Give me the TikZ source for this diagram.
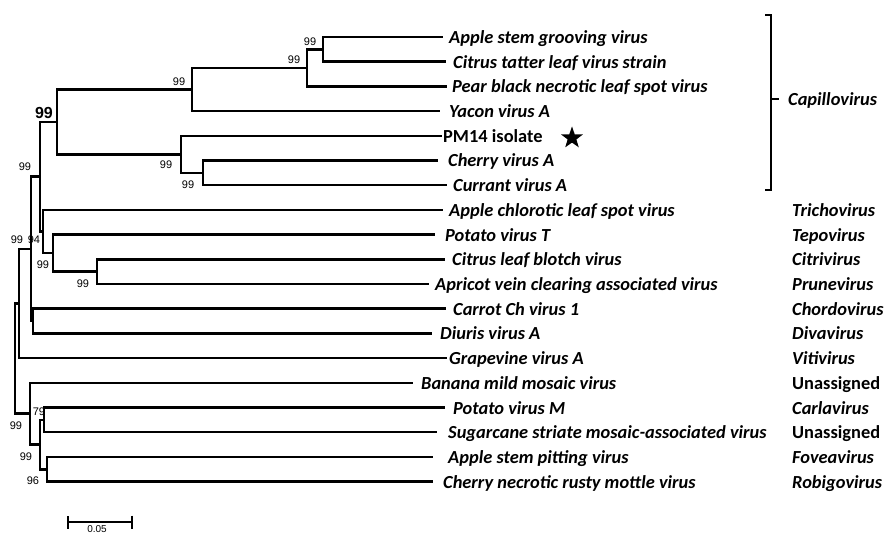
\documentclass[tikz,border=0pt]{standalone}
\usepackage{fontspec}
\setmainfont{Carlito}
\newfontfamily\numfont{Liberation Sans}
\usetikzlibrary{shapes.geometric,arrows.meta}

\tikzset{
  branch/.style={line width=2.5pt, line join=miter},
  taxon/.style={anchor=base west, inner sep=0pt, font=\fontsize{18.4}{18.4}\selectfont\bfseries\itshape},
  upright/.style={taxon, font=\fontsize{18.4}{18.4}\selectfont\bfseries\upshape},
  boot/.style={inner sep=0pt, font=\numfont\fontsize{11}{11}\selectfont},
  bracket/.style={line width=2pt, line join=miter},
  scalebar/.style={line width=2pt, {Bar[width=13pt]}-{Bar[width=13pt]}}
}

\begin{document}
\begin{tikzpicture}[x=1pt, y=-1pt]
  \useasboundingbox (0,0) rectangle (885,534);
  \clip (0,0) rectangle (885,534);

  % leaf tips
  \coordinate (asgv)   at (443,37);
  \coordinate (ctlv)   at (446,61.7);
  \coordinate (pbnlsv) at (447,86.4);
  \coordinate (yva)    at (440,111.1);
  \coordinate (pm)     at (442,135.8);
  \coordinate (cva)    at (438,160.5);
  \coordinate (cuva)   at (447,185.2);
  \coordinate (aclsv)  at (443,209.9);
  \coordinate (pvt)    at (435,234.6);
  \coordinate (clbv)   at (445,259.3);
  \coordinate (avcav)  at (429,284);
  \coordinate (cchv)   at (446,308.7);
  \coordinate (diva)   at (432,333.4);
  \coordinate (gva)    at (447,358.1);
  \coordinate (bmmv)   at (413,382.8);
  \coordinate (pvm)    at (445,407.5);
  \coordinate (ssmav)  at (437,432.2);
  \coordinate (aspv)   at (433,456.9);
  \coordinate (cnrmv)  at (433,481.6);

  % inner nodes
  \coordinate (ca)   at (323,49.35);
  \coordinate (cb)   at (307,67.9);
  \coordinate (cc)   at (192,89.5);
  \coordinate (cd)   at (203,172.85);
  \coordinate (ce)   at (181,154.3);
  \coordinate (capi) at (57,121.9);
  \coordinate (ta)   at (97,271.65);
  \coordinate (tb)   at (53,253.1);
  \coordinate (tc)   at (43,231.5);
  \coordinate (td)   at (40,176.7);
  \coordinate (te)   at (33,321.05);
  \coordinate (tf)   at (31,248.9);
  \coordinate (tg)   at (19,303.5);
  \coordinate (la)   at (44,419.85);
  \coordinate (lb)   at (47,469.25);
  \coordinate (lc)   at (40,444.55);
  \coordinate (ld)   at (30,413.7);
  \coordinate (root) at (15,358.6);

  % branches
  \draw[branch] (ca) |- (asgv);
  \draw[branch] (ca) |- (ctlv);
  \draw[branch] (cb) |- (ca);
  \draw[branch] (cb) |- (pbnlsv);
  \draw[branch] (cc) |- (cb);
  \draw[branch] (cc) |- (yva);
  \draw[branch] (cd) |- (cva);
  \draw[branch] (cd) |- (cuva);
  \draw[branch] (ce) |- (pm);
  \draw[branch] (ce) |- (cd);
  \draw[branch] (capi) |- (cc);
  \draw[branch] (capi) |- (ce);
  \draw[branch] (ta) |- (clbv);
  \draw[branch] (ta) |- (avcav);
  \draw[branch] (tb) |- (pvt);
  \draw[branch] (tb) |- (ta);
  \draw[branch] (tc) |- (aclsv);
  \draw[branch] (tc) |- (tb);
  \draw[branch] (td) |- (capi);
  \draw[branch] (td) |- (tc);
  \draw[branch] (te) |- (cchv);
  \draw[branch] (te) |- (diva);
  \draw[branch] (tf) |- (td);
  \draw[branch] (tf) |- (te);
  \draw[branch] (tg) |- (tf);
  \draw[branch] (tg) |- (gva);
  \draw[branch] (la) |- (pvm);
  \draw[branch] (la) |- (ssmav);
  \draw[branch] (lb) |- (aspv);
  \draw[branch] (lb) |- (cnrmv);
  \draw[branch] (lc) |- (la);
  \draw[branch] (lc) |- (lb);
  \draw[branch] (ld) |- (bmmv);
  \draw[branch] (ld) |- (lc);
  \draw[branch] (root) |- (tg);
  \draw[branch] (root) |- (ld);

  % bootstrap values
  \node[boot] (bca) at (310,42) {99};
  \node[boot] (bcb) at (294,60) {99};
  \node[boot] (bcc) at (179,82) {99};
  \node[boot] (bce) at (166,165) {99};
  \node[boot] (bcd) at (188,185) {99};
  \node[boot, font=\numfont\fontsize{16}{16}\selectfont\bfseries] (bcapi) at (44,113) {99};
  \node[boot] (btd) at (25,167) {99};
  \node[boot] (btf) at (17,240) {99};
  \node[boot] (btc) at (34,240) {94};
  \node[boot] (btb) at (43,265) {99};
  \node[boot] (bta) at (83,283.5) {99};
  \node[boot] (bla) at (39,412) {79};
  \node[boot] (bld) at (16,426) {99};
  \node[boot] (blc) at (26,457) {99};
  \node[boot] (blb) at (33,481) {96};

  % taxa
  \node[taxon] (asgvlab)   at (449,43.5)  {Apple stem grooving virus};
  \node[taxon] (ctlvlab)   at (453,68.2)  {Citrus tatter leaf virus strain};
  \node[taxon] (pbnlsvlab) at (452,92.9)  {Pear black necrotic leaf spot virus};
  \node[taxon] (yvalab)    at (449,117.6) {Yacon virus A};
  \node[upright] (pmlab)   at (443,142.3) {PM14 isolate};
  \node[taxon] (cvalab)    at (448,167)   {Cherry virus A};
  \node[taxon] (cuvalab)   at (453,191.7) {Currant virus A};
  \node[taxon] (aclsvlab)  at (449,216.4) {Apple chlorotic leaf spot virus};
  \node[taxon] (pvtlab)    at (445,241.1) {Potato virus T};
  \node[taxon] (clbvlab)   at (452,265.8) {Citrus leaf blotch virus};
  \node[taxon] (avcavlab)  at (435,290.5) {Apricot vein clearing associated virus};
  \node[taxon] (cchvlab)   at (453,315.2) {Carrot Ch virus 1};
  \node[taxon] (divalab)   at (440,339.9) {Diuris virus A};
  \node[taxon] (gvalab)    at (449,364.6) {Grapevine virus A};
  \node[taxon] (bmmvlab)   at (421,389.3) {Banana mild mosaic virus};
  \node[taxon] (pvmlab)    at (453,414)   {Potato virus M};
  \node[taxon] (ssmavlab)  at (448,438.7) {Sugarcane striate mosaic-associated virus};
  \node[taxon] (aspvlab)   at (448,463.4) {Apple stem pitting virus};
  \node[taxon] (cnrmvlab)  at (443,488.1) {Cherry necrotic rusty mottle virus};

  \node[star, star points=5, star point ratio=2.5, fill, inner sep=0pt, minimum size=23pt] (pmstar) at (572,138) {};

  % genera
  \coordinate (brt)  at (771,15);
  \coordinate (brtl) at (765,15);
  \coordinate (brb)  at (771,190);
  \coordinate (brbl) at (765,190);
  \coordinate (brm)  at (771,99);
  \coordinate (brmr) at (779,99);
  \draw[bracket] (brtl) -- (brt) -- (brb) -- (brbl);
  \draw[bracket] (brm) -- (brmr);

  \node[taxon] (capilab)  at (788,105.5) {Capillovirus};
  \node[taxon] (trichlab) at (792,216.4) {Trichovirus};
  \node[taxon] (tepolab)  at (792,241.1) {Tepovirus};
  \node[taxon] (citrlab)  at (792,265.8) {Citrivirus};
  \node[taxon] (prunlab)  at (792,290.5) {Prunevirus};
  \node[taxon] (chorlab)  at (792,315.2) {Chordovirus};
  \node[taxon] (divalab2) at (792,339.9) {Divavirus};
  \node[taxon] (vitilab)  at (792,364.6) {Vitivirus};
  \node[upright] (unalab) at (792,389.3) {Unassigned};
  \node[taxon] (carlab)   at (792,414)   {Carlavirus};
  \node[upright] (unblab) at (792,438.7) {Unassigned};
  \node[taxon] (fovelab)  at (792,463.4) {Foveavirus};
  \node[taxon] (robilab)  at (792,488.1) {Robigovirus};

  % scale bar
  \coordinate (sbl) at (66.5,522);
  \coordinate (sbr) at (133,522);
  \draw[scalebar] (sbl) -- (sbr);
  \node[boot, anchor=north, font=\numfont\fontsize{10}{10}\selectfont] (sblab) at (97,525) {0.05};
\end{tikzpicture}
\end{document}
